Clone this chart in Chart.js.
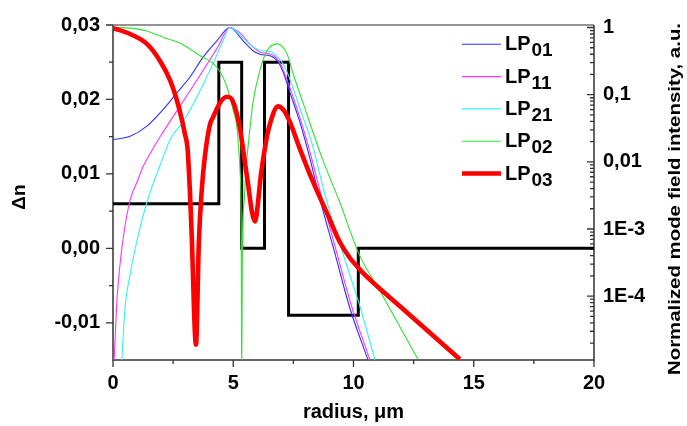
<!DOCTYPE html>
<html>
<head>
<meta charset="utf-8">
<script src="https://cdn.jsdelivr.net/npm/chart.js@4.4.1/dist/chart.umd.min.js"></script>
<style>
  html, body { margin: 0; padding: 0; background: #fff; overflow: hidden; }
  #wrap { width: 687px; height: 426px; position: relative; }
</style>
</head>
<body>
<div id="wrap"><canvas id="chart" width="687" height="426"></canvas></div>
<script>
// Refractive index profile: step start radii (µm) and Δn on each step
const profileRadius = [0, 4.4, 5.35, 6.3, 7.3, 10.2, 20];
const profileDn = [0.006, 0.025, 0.0, 0.025, -0.009, 0.0, 0.0];

// Normalized mode field intensity vs radius (µm)
const lp01R = [0, 0.71, 1.41, 2.08, 2.66, 3.2, 3.74, 4.32, 4.86, 5.4, 5.82, 6.11, 6.61, 6.86, 7.07, 7.36, 7.77, 8.19, 8.6, 9.23, 9.85, 10.6];
const lp01I = [0.0215, 0.024, 0.034, 0.06, 0.107, 0.183, 0.36, 0.635, 1.0, 0.64, 0.45, 0.40, 0.37, 0.31, 0.22, 0.107, 0.039, 0.0112, 0.0028, 0.00043, 0.000066, 0.0000113];

const lp11R = [0.02, 0.05, 0.17, 0.29, 0.46, 0.71, 1.0, 1.25, 1.54, 1.95, 2.24, 2.91, 3.62, 4.32, 4.86, 5.28, 5.69, 6.11, 6.44, 6.73, 7.0, 7.4, 7.82, 8.23, 8.65, 9.3, 9.9, 10.68];
const lp11I = [0.000008, 0.000012, 0.000094, 0.000295, 0.0009, 0.0027, 0.005, 0.0085, 0.0132, 0.0234, 0.034, 0.079, 0.195, 0.485, 1.0, 0.83, 0.57, 0.43, 0.41, 0.37, 0.27, 0.114, 0.04, 0.0124, 0.0032, 0.00045, 0.000075, 0.0000113];

const lp21R = [0.36, 0.5, 0.71, 1.08, 1.41, 1.95, 2.41, 2.91, 3.62, 4.16, 4.57, 4.86, 5.4, 5.82, 6.19, 6.53, 6.86, 7.15, 7.44, 7.86, 8.27, 8.85, 9.64, 10.27, 10.89];
const lp21I = [0.00001, 0.000067, 0.00021, 0.0009, 0.0025, 0.0088, 0.0227, 0.039, 0.114, 0.29, 0.63, 1.0, 0.70, 0.52, 0.45, 0.44, 0.36, 0.256, 0.14, 0.051, 0.019, 0.0029, 0.00035, 0.00007, 0.0000113];

const lp02R = [0, 0.71, 1.41, 2.16, 2.78, 3.62, 4.32, 4.74, 4.99, 5.15, 5.28, 5.33, 5.35, 5.38, 5.45, 5.53, 5.65, 5.82, 6.11, 6.4, 6.82, 7.23, 7.48, 7.9, 8.73, 9.43, 10.22, 11.1, 12.68];
const lp02I = [1.0, 0.98, 0.89, 0.70, 0.59, 0.38, 0.256, 0.13, 0.06, 0.033, 0.0075, 0.0012, 0.000005, 0.00064, 0.0025, 0.0079, 0.022, 0.076, 0.23, 0.45, 0.57, 0.41, 0.21, 0.076, 0.0105, 0.0025, 0.00043, 0.000119, 0.0000115];

const lp03R = [0, 0.71, 1.41, 1.95, 2.37, 2.65, 2.86, 2.99, 3.1, 3.2, 3.27, 3.45, 3.57, 3.69, 3.82, 4.03, 4.16, 4.45, 4.74, 4.99, 5.28, 5.55, 5.9, 6.16, 6.37, 6.52, 6.86, 7.11, 7.36, 7.77, 8.31, 8.89, 9.43, 9.85, 10.1, 10.35, 12.2, 14.42];
const lp03I = [0.98, 0.80, 0.57, 0.32, 0.165, 0.084, 0.043, 0.026, 0.0157, 0.0035, 0.00085, 0.000019, 0.00064, 0.0038, 0.012, 0.036, 0.046, 0.076, 0.093, 0.079, 0.031, 0.0068, 0.0013, 0.0068, 0.0206, 0.036, 0.067, 0.058, 0.039, 0.0156, 0.0051, 0.00175, 0.00064, 0.00037, 0.00029, 0.00023, 0.000058, 0.0000115];

// Tick values and labels
const radiusTicks = [0, 5, 10, 15, 20];
const radiusMinorTicks = [2.5, 7.5, 12.5, 17.5];
const dnTicks = [-0.01, 0, 0.01, 0.02, 0.03];
const dnTickLabels = ['-0,01', '0,00', '0,01', '0,02', '0,03'];
const dnMinorTicks = [-0.005, 0.005, 0.015, 0.025];
const intensityTicks = [1e-4, 1e-3, 0.01, 0.1, 1];
const intensityTickLabels = ['1E-4', '1E-3', '0,01', '0,1', '1'];

const FONT = "'Liberation Sans', Arial, Helvetica, sans-serif";

const toXY = (xs, ys) => xs.map((x, i) => ({ x, y: ys[i] }));

const modeStyle = (label, xs, ys, color, width, order) => ({
  label, data: toXY(xs, ys), yAxisID: 'y2',
  borderColor: color, borderWidth: width, pointRadius: 0,
  cubicInterpolationMode: 'monotone', fill: false, order
});

const datasets = [
  modeStyle('LP01', lp01R, lp01I, '#2e2eff', 1.1, 4),
  modeStyle('LP11', lp11R, lp11I, '#ff33ff', 1.1, 3),
  modeStyle('LP21', lp21R, lp21I, '#33f2f2', 1.1, 2),
  modeStyle('LP02', lp02R, lp02I, '#33e033', 1.1, 1),
  modeStyle('LP03', lp03R, lp03I, '#ff0000', 4.6, 0),
  {
    label: 'Δn', data: toXY(profileRadius, profileDn), yAxisID: 'y',
    borderColor: '#000', borderWidth: 3, pointRadius: 0, stepped: true,
    borderJoinStyle: 'miter', borderCapStyle: 'butt', fill: false, order: 10
  }
];
const legendModes = ['LP01', 'LP11', 'LP21', 'LP02', 'LP03'];

// Frame and tick marks (major and minor, different lengths)
const frameTicks = {
  id: 'frameTicks',
  beforeDatasetsDraw(chart) {
    const { ctx, chartArea: a, scales } = chart;
    const { x, y, y2 } = scales;
    ctx.save();
    ctx.lineCap = 'butt';
    ctx.lineWidth = 1.5;
    ctx.strokeStyle = '#707070';
    ctx.beginPath();
    ctx.moveTo(a.left, a.top); ctx.lineTo(a.right, a.top);
    ctx.stroke();
    ctx.strokeStyle = '#333';
    ctx.beginPath();
    ctx.moveTo(a.left, a.top); ctx.lineTo(a.left, a.bottom); ctx.lineTo(a.right, a.bottom); ctx.lineTo(a.right, a.top);
    ctx.stroke();

    ctx.lineWidth = 1.3;
    ctx.beginPath();
    radiusTicks.forEach(v => { const p = x.getPixelForValue(v); ctx.moveTo(p, a.bottom); ctx.lineTo(p, a.bottom + 7); });
    radiusMinorTicks.forEach(v => { const p = x.getPixelForValue(v); ctx.moveTo(p, a.bottom); ctx.lineTo(p, a.bottom + 4); });
    dnTicks.forEach(v => { const p = y.getPixelForValue(v); ctx.moveTo(a.left, p); ctx.lineTo(a.left - 7, p); });
    dnMinorTicks.forEach(v => { const p = y.getPixelForValue(v); ctx.moveTo(a.left, p); ctx.lineTo(a.left - 4, p); });
    intensityTicks.forEach(v => { const p = y2.getPixelForValue(v); ctx.moveTo(a.right, p); ctx.lineTo(a.right - 7, p); });
    for (let d = 1e-5; d < 1; d *= 10) {
      for (let k = 2; k <= 9; k++) {
        const v = k * d;
        if (v < y2.min || v > y2.max) continue;
        const p = y2.getPixelForValue(v);
        ctx.moveTo(a.right, p); ctx.lineTo(a.right - 4, p);
      }
    }
    ctx.stroke();
    ctx.restore();
  },
  afterDraw(chart) {
    const { ctx, chartArea: a } = chart;
    ctx.save();
    ctx.fillStyle = '#000';

    // Legend with subscripted mode indices
    const rowTop = 44.3, rowStep = 32.3, lineX0 = 462, lineX1 = 501, textX = 505;
    legendModes.forEach((name, i) => {
      const ds = chart.data.datasets.find(d => d.label === name);
      const yRow = rowTop + i * rowStep;
      ctx.strokeStyle = ds.borderColor;
      ctx.lineWidth = ds.borderWidth;
      ctx.beginPath(); ctx.moveTo(lineX0, yRow); ctx.lineTo(lineX1, yRow); ctx.stroke();
      ctx.textAlign = 'left';
      ctx.textBaseline = 'alphabetic';
      ctx.font = `bold 20px ${FONT}`;
      const base = name.slice(0, 2), sub = name.slice(2);
      ctx.fillText(base, textX, yRow + 6);
      const w = ctx.measureText(base).width;
      ctx.font = `bold 19px ${FONT}`;
      ctx.fillText(sub, textX + w + 1, yRow + 12);
    });

    // Axis titles
    ctx.textAlign = 'center';
    ctx.textBaseline = 'middle';
    ctx.font = `bold 19px ${FONT}`;
    ctx.save();
    ctx.translate(20, 197);
    ctx.rotate(-Math.PI / 2);
    ctx.fillText('Δn', 0, 0);
    ctx.restore();

    ctx.font = `bold 20px ${FONT}`;
    ctx.textBaseline = 'alphabetic';
    ctx.fillText('radius, μm', (a.left + a.right) / 2, 418);

    const rightTitle = 'Normalized mode field intensity, a.u.';
    ctx.font = `bold 17px ${FONT}`;
    const tw = ctx.measureText(rightTitle).width;
    ctx.save();
    ctx.translate(675, 199);
    ctx.rotate(-Math.PI / 2);
    ctx.scale(352 / tw, 1);
    ctx.textBaseline = 'middle';
    ctx.fillText(rightTitle, 0, 0);
    ctx.restore();

    ctx.restore();
  }
};

const tickFont = { family: FONT, size: 20, weight: 'bold' };

new Chart(document.getElementById('chart'), {
  type: 'line',
  data: { datasets },
  options: {
    responsive: false,
    animation: false,
    events: [],
    layout: { padding: { top: 19, left: 0, right: 0, bottom: 0 } },
    plugins: { legend: { display: false }, tooltip: { enabled: false } },
    scales: {
      x: {
        type: 'linear', position: 'bottom', min: 0, max: 20,
        afterBuildTicks: s => { s.ticks = radiusTicks.map(v => ({ value: v })); },
        afterFit: s => { s.height = 66; },
        grid: { display: false, drawTicks: false },
        border: { display: false },
        ticks: { font: tickFont, color: '#000', padding: 11, maxRotation: 0, autoSkip: false }
      },
      y: {
        type: 'linear', position: 'left', min: -0.015, max: 0.03,
        afterBuildTicks: s => { s.ticks = dnTicks.map(v => ({ value: v })); },
        afterFit: s => { s.width = 113; },
        grid: { display: false, drawTicks: false },
        border: { display: false },
        ticks: { font: tickFont, color: '#000', padding: 13, autoSkip: false,
                 callback: (v, i) => dnTickLabels[i] }
      },
      y2: {
        type: 'logarithmic', position: 'right', min: 1.12e-5, max: 1.09,
        afterBuildTicks: s => { s.ticks = intensityTicks.map(v => ({ value: v })); },
        afterFit: s => { s.width = 93; },
        grid: { display: false, drawTicks: false },
        border: { display: false },
        ticks: { font: tickFont, color: '#000', padding: 9, autoSkip: false,
                 callback: (v, i) => intensityTickLabels[i] }
      }
    }
  },
  plugins: [frameTicks]
});
</script>
</body>
</html>
